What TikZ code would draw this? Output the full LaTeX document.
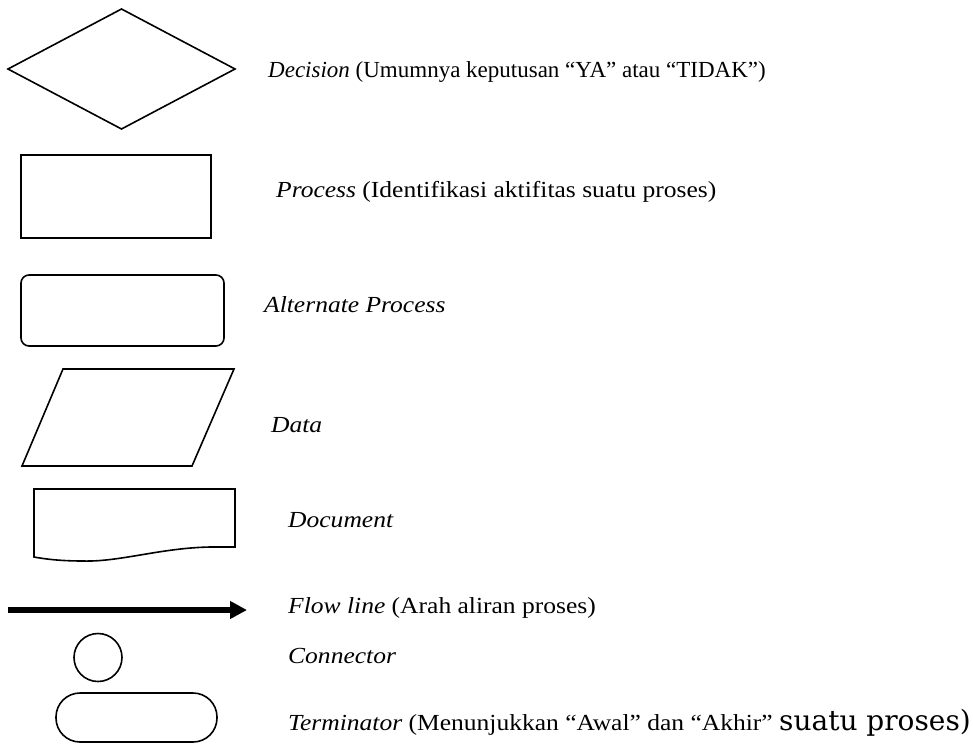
\documentclass[tikz,border=0pt]{standalone}
\usepackage{fontspec}
\setmainfont{Liberation Serif}
\newfontfamily\widefont[FakeStretch=1.11]{Liberation Serif}
\newfontfamily\roundfont{DejaVu Serif}
\usetikzlibrary{shapes.geometric, arrows.meta, positioning}

\begin{document}
\begin{tikzpicture}[
        x=1pt, y=-1pt,
        font=\fontsize{23}{28}\selectfont,
        symbol/.style={draw=black, line width=1.6pt, fill=none, inner sep=0pt, outer sep=0pt},
        decision/.style={symbol, diamond, minimum width=227pt, minimum height=120pt},
        process/.style={symbol, rectangle, minimum width=190pt, minimum height=83pt},
        altprocess/.style={symbol, rectangle, rounded corners=8pt, minimum width=203pt, minimum height=71pt},
        connector/.style={symbol, circle, minimum size=48pt},
        terminator/.style={symbol, rectangle, rounded corners=24pt, minimum width=161pt, minimum height=49pt},
        desc/.style={anchor=base west, inner sep=0pt, font=\fontsize{23}{28}\widefont},
        flow/.style={-{Triangle[length=17pt, width=17pt]}, line width=6pt, draw=black}
    ]
    \useasboundingbox (0,0) rectangle (973,744);

    \node[decision] (dec) at (121.5,69) {};
    \node[process] (proc) at (116,196.5) {};
    \node[altprocess] (alt) at (122.5,310.5) {};
    \draw[symbol] (22,466) -- (63,369) -- (234,369) -- (192,466) -- cycle;
    \draw[symbol] (34,489) -- (235,489) -- (235,547) -- (210,547)
        .. controls (160,548) and (120,562) .. (83,561)
        .. controls (60,561) and (45,559) .. (34,557) -- cycle;
    \coordinate (fl-start) at (8,610);
    \coordinate (fl-end) at (247,610);
    \draw[flow] (fl-start) -- (fl-end);
    \node[connector] (conn) at (98,657.5) {};
    \node[terminator] (term) at (136.5,717.5) {};

    \node[desc, font=\fontsize{23}{28}\selectfont] (dec-text) at (268,77) {\textit{Decision} (Umumnya keputusan “YA” atau “TIDAK”)};
    \node[desc] (proc-text) at (276,197) {\textit{Process} (Identifikasi aktifitas suatu proses)};
    \node[desc] (alt-text) at (264,312) {\textit{Alternate Process}};
    \node[desc] (data-text) at (271,432) {\textit{Data}};
    \node[desc] (doc-text) at (288,527) {\textit{Document}};
    \node[desc] (flow-text) at (288,613) {\textit{Flow line} (Arah aliran proses)};
    \node[desc] (conn-text) at (288,663) {\textit{Connector}};
    \node[desc] (term-text) at (288,730) {\textit{Terminator} (Menunjukkan “Awal” dan “Akhir” {\fontsize{28}{30}\roundfont suatu proses)}};
\end{tikzpicture}
\end{document}
